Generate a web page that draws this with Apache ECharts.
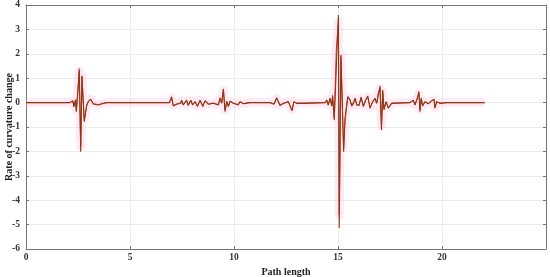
<!DOCTYPE html>
<html>
<head>
<meta charset="utf-8">
<script src="https://cdn.jsdelivr.net/npm/echarts@6/dist/echarts.min.js"></script>
<style>
html, body { margin: 0; padding: 0; background: #fff; }
#main { width: 550px; height: 277px; }
</style>
</head>
<body>
<div id="main"></div>
<script>
// path length samples
let pathX = [0, 2.1, 2.18, 2.25, 2.3, 2.38, 2.42, 2.5, 2.56, 2.63, 2.69, 2.8, 2.92, 3.0, 3.11, 3.24, 3.48, 3.7, 3.88,
	6.9, 7.0, 7.08, 7.24, 7.44, 7.48, 7.56, 7.72, 7.8, 7.92, 8.01, 8.13, 8.24, 8.37, 8.5, 8.61, 8.77, 9.0,
	9.25, 9.33, 9.41, 9.49, 9.57, 9.65, 9.73, 9.81, 9.97, 10.2, 10.29, 10.45, 10.77,
	11.73, 11.81, 11.92, 12.05, 12.21, 12.37, 12.61, 12.69, 12.79, 12.88, 13.01, 13.33,
	14.38, 14.46, 14.53, 14.62, 14.7, 14.74, 14.82, 14.92, 15.02, 15.06, 15.14, 15.27, 15.34, 15.47,
	15.58, 15.66, 15.74, 15.82, 15.9, 16.01, 16.11, 16.22, 16.33, 16.43, 16.54, 16.67, 16.78, 16.86, 16.94,
	17.02, 17.09, 17.15, 17.21, 17.31, 17.42, 17.58, 18.46, 18.54, 18.62, 18.7, 18.81, 18.89, 18.94, 19.0,
	19.07, 19.18, 19.34, 19.5, 19.62, 19.66, 19.74, 19.9, 20.23, 22.05];
// rate of curvature change (dark curve)
let rateA = [0, 0, -0.05, 0.08, -0.18, 0.1, -0.37, 0.5, 1.4, -2.01, 1.06, -0.78, -0.1, 0.05, 0.13, -0.06, -0.1, -0.04, 0,
	0, 0.24, -0.14, -0.07, -0.03, 0.1, -0.1, 0.1, -0.12, 0.1, -0.1, 0.04, -0.16, 0.1, -0.16, 0.08, -0.07, -0.03,
	-0.1, 0.17, -0.03, 0.56, -0.37, 0.04, -0.16, 0.06, -0.03, -0.1, 0.04, -0.05, 0,
	0, 0.04, -0.07, 0.2, -0.12, -0.04, 0.04, 0.1, -0.34, 0.04, -0.03, -0.03,
	0, 0.11, -0.1, 0.18, -0.14, 0.25, -0.71, 1.47, 3.59, -5.14, 1.88, -2.01, -0.71, 0.25,
	0.11, -0.14, -0.05, 0.18, -0.1, -0.12, 0.22, -0.16, 0.11, 0.27, -0.23, 0.04, 0.18, -0.03, 0.31,
	0.68, -1.12, 0.52, -0.3, 0.04, -0.23, -0.03, 0, -0.02, 0.1, -0.1, 0.18, 0.45, -0.37, 0.18,
	-0.14, 0.04, -0.05, 0.08, 0.14, -0.23, 0.04, -0.03, 0, 0];
// rate of curvature change (red curve)
let rateB = [0, 0, -0.04, 0.06, -0.15, 0.12, -0.3, 0.6, 1.3, -1.8, 1.1, -0.7, -0.12, 0.04, 0.15, -0.05, -0.08, -0.03, 0,
	0, 0.2, -0.12, -0.06, -0.02, 0.08, -0.08, 0.09, -0.1, 0.09, -0.08, 0.04, -0.14, 0.09, -0.14, 0.07, -0.06, -0.02,
	-0.08, 0.2, 0, 0.5, -0.3, 0.05, -0.14, 0.05, -0.02, -0.08, 0.03, -0.04, 0,
	0, 0.03, -0.06, 0.18, -0.1, -0.03, 0.03, 0.08, -0.3, 0.03, -0.02, -0.02,
	0, 0.1, -0.08, 0.16, -0.12, 0.3, -0.6, 2.2, 3.3, -4.6, 1.95, -1.85, -0.6, 0.22,
	0.1, -0.12, -0.04, 0.16, -0.08, -0.1, 0.2, -0.14, 0.1, 0.24, -0.2, 0.03, 0.16, -0.02, 0.4,
	0.6, -0.95, 0.45, -0.25, 0.03, -0.2, -0.02, 0, -0.02, 0.09, -0.08, 0.16, 0.38, -0.3, 0.16,
	-0.12, 0.03, -0.04, 0.07, 0.12, -0.2, 0.03, -0.02, 0, 0];
let xTicks = [0, 5, 10, 15, 20, 25];
let yTicks = [-6, -5, -4, -3, -2, -1, 0, 1, 2, 3, 4];

let chart = echarts.init(document.getElementById('main'));

let dataA = pathX.map(function (x, i) { return [x, rateA[i]]; });
let dataB = pathX.map(function (x, i) { return [x, rateB[i]]; });

let labelFont = { fontFamily: 'Liberation Serif', fontWeight: 'bold', fontSize: 9.5, color: '#333' };

option = {
	animation: false,
	backgroundColor: '#fff',
	grid: { left: 26, right: 4, top: 5, bottom: 28, containLabel: false, outerBoundsMode: 'none' },
	xAxis: [{
		type: 'value',
		min: xTicks[0],
		max: xTicks[xTicks.length - 1],
		interval: 5,
		name: 'Path length',
		nameLocation: 'middle',
		nameGap: 15,
		nameTextStyle: { fontFamily: 'Liberation Serif', fontWeight: 'bold', fontSize: 10, color: '#222' },
		axisLine: { onZero: false, lineStyle: { color: '#777' } },
		axisTick: { inside: true, length: 3, lineStyle: { color: '#777' } },
		axisLabel: Object.assign({ margin: 4, showMaxLabel: false }, labelFont),
		splitLine: { show: true, lineStyle: { color: '#ebebeb' } }
	}, {
		type: 'value',
		position: 'top',
		min: xTicks[0],
		max: xTicks[xTicks.length - 1],
		interval: 5,
		axisLine: { show: true, onZero: false, lineStyle: { color: '#777' } },
		axisTick: { show: true, inside: true, length: 3, lineStyle: { color: '#777' } },
		axisLabel: { show: false },
		splitLine: { show: false }
	}],
	yAxis: [{
		type: 'value',
		min: yTicks[0],
		max: yTicks[yTicks.length - 1],
		interval: 1,
		name: 'Rate of curvature change',
		nameLocation: 'middle',
		nameGap: 12,
		nameMoveOverlap: false,
		nameTextStyle: { fontFamily: 'Liberation Serif', fontWeight: 'bold', fontSize: 10, color: '#222' },
		axisLine: { show: true, onZero: false, lineStyle: { color: '#777' } },
		axisTick: { show: true, inside: true, length: 3, lineStyle: { color: '#777' } },
		axisLabel: Object.assign({ margin: 6 }, labelFont),
		splitLine: { show: true, lineStyle: { color: '#ebebeb' } }
	}, {
		type: 'value',
		position: 'right',
		min: yTicks[0],
		max: yTicks[yTicks.length - 1],
		interval: 1,
		axisLine: { show: true, onZero: false, lineStyle: { color: '#777' } },
		axisTick: { show: true, inside: true, length: 3, lineStyle: { color: '#777' } },
		axisLabel: { show: false },
		splitLine: { show: false }
	}],
	series: [{
		// pink envelope
		type: 'line',
		data: dataB,
		showSymbol: false,
		silent: true,
		lineStyle: { color: '#ffaad6', width: 9, opacity: 0.25, join: 'round' }
	}, {
		type: 'line',
		data: dataB,
		showSymbol: false,
		lineStyle: { color: '#e8332e', width: 1 }
	}, {
		type: 'line',
		data: dataA,
		showSymbol: false,
		lineStyle: { color: '#8a3a12', width: 1.1 }
	}]
};

chart.setOption(option, true);
</script>
</body>
</html>
